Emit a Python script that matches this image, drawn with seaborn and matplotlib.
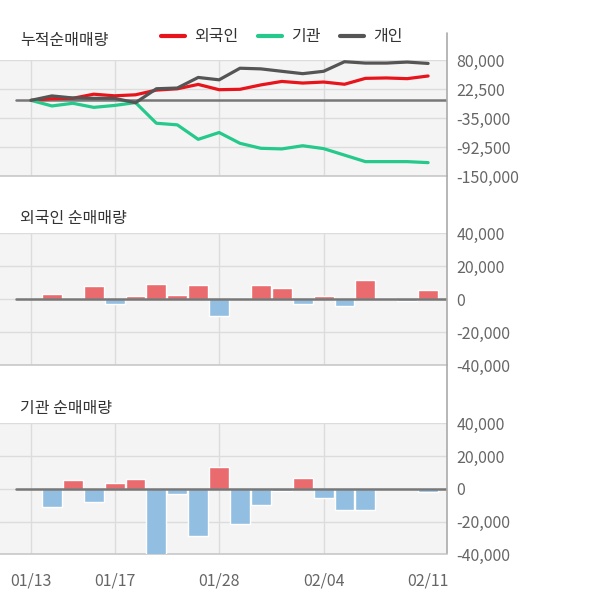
import matplotlib
matplotlib.use("Agg")
import matplotlib.pyplot as plt
from matplotlib.lines import Line2D
import numpy as np
import pandas as pd
import seaborn as sns

# trading days
dates = ['01/13', '01/14', '01/15', '01/16', '01/17', '01/20', '01/21', '01/22',
         '01/23', '01/28', '01/29', '01/30', '01/31', '02/03', '02/04', '02/05',
         '02/06', '02/07', '02/10', '02/11']
tick_labels = ['01/13', '01/17', '01/28', '02/04', '02/11']

# daily net buying
foreign = [0, 3300, 800, 8100, -3200, 2000, 9300, 2600, 8700, -10500,
           800, 8700, 6900, -3200, 2000, -4400, 11700, 800, -1400, 5300]
inst = [0, -11100, 5300, -8100, 3800, 5700, -41000, -3200, -28700, 13500,
        -21400, -9900, -1200, 6300, -5700, -12900, -12900, 0, 0, -2000]
# cumulative individual
indiv_cum = [0, 8800, 4700, 4000, 4000, -4700, 23000, 24400, 45400, 40700,
             63700, 62400, 57600, 52900, 57600, 76600, 73900, 73900, 75900, 73200]

series_names = ['외국인', '기관', '개인']
line_colors = ['#e8141c', '#25c98b', '#555555']
cum_ticks = [-150000, -92500, -35000, 22500, 80000]
bar_ticks = [-40000, -20000, 0, 20000, 40000]

sns.set_style("white")
plt.rcParams['font.family'] = ['Noto Sans CJK KR', 'DejaVu Sans']

idx = np.arange(len(dates))
cum = pd.DataFrame({
    'idx': np.tile(idx, 3),
    'value': np.concatenate([np.cumsum(foreign), np.cumsum(inst), indiv_cum]),
    'series': np.repeat(series_names, len(dates)),
})

W, H = 600, 604
fig = plt.figure(figsize=(W / 100, H / 100), dpi=100)
plot_right = 446.7


def box(top, bottom):
    return [0, (H - bottom) / H, plot_right / W, (bottom - top) / H]


ax1 = fig.add_axes(box(60, 176))
ax2 = fig.add_axes(box(233.3, 365))
ax3 = fig.add_axes(box(423.3, 554.3))

sns.lineplot(data=cum, x='idx', y='value', hue='series', hue_order=series_names,
             palette=line_colors, lw=2.3, legend=False, ax=ax1, zorder=4)
handles = list(ax1.lines[:3])

for ax, vals in [(ax2, foreign), (ax3, inst)]:
    d = pd.DataFrame({'date': dates, 'value': vals,
                      'sign': ['pos' if v >= 0 else 'neg' for v in vals]})
    sns.barplot(data=d, x='date', y='value', hue='sign', dodge=False,
                palette={'pos': '#e96b6e', 'neg': '#92bfe1'}, width=0.95,
                legend=False, ax=ax, zorder=3, saturation=1)

grid_idx = [dates.index(t) for t in tick_labels[:-1]]
for ax, ticks in [(ax1, cum_ticks), (ax2, bar_ticks), (ax3, bar_ticks)]:
    ax.set_facecolor('#f4f4f4')
    ax.set_xlim(-31 / 20.9, (plot_right - 31) / 20.9)
    ax.set_ylim(ticks[0], ticks[-1])
    ax.set_yticks(ticks, [f'{t:,}' for t in ticks])
    ax.yaxis.tick_right()
    ax.tick_params(axis='y', length=0, pad=7, labelsize=11.5, labelcolor='#666666')
    ax.grid(axis='y', color='#dcdcdc', lw=1)
    ax.grid(axis='x', visible=False)
    for gi in grid_idx:
        ax.axvline(gi, color='#dcdcdc', lw=1, zorder=1)
    ax.axhline(0, xmin=15.7 / plot_right, color='#777777', lw=1.8, zorder=3.5)
    for s in ['top', 'left', 'right']:
        ax.spines[s].set_visible(False)
    ax.spines['bottom'].set_color('#c8c8c8')
    ax.spines['bottom'].set_linewidth(1.2)
    ax.set_xlabel('')
    ax.set_ylabel('')
    ax.set_xticks([])

ax3.set_xticks([dates.index(t) for t in tick_labels], tick_labels)
ax3.tick_params(axis='x', length=0, pad=13, labelsize=11.5, labelcolor='#666666')

fig.add_artist(Line2D([plot_right / W] * 2, [(H - 33) / H, (H - 553) / H],
                      color='#aaaaaa', lw=1.2))

title_kw = dict(fontsize=11.5, color='#333333', va='center', ha='left')
fig.text(20 / W, (H - 40) / H, '누적순매매량', **title_kw)
fig.text(20 / W, (H - 218) / H, '외국인 순매매량', **title_kw)
fig.text(20 / W, (H - 408) / H, '기관 순매매량', **title_kw)

leg = fig.legend(handles, series_names, loc='center left',
                 bbox_to_anchor=(161 / W, (H - 37) / H), ncol=3, frameon=False,
                 fontsize=11.5, handlelength=1.5, handletextpad=0.55,
                 columnspacing=1.25, borderpad=0, borderaxespad=0)
for t in leg.get_texts():
    t.set_color('#333333')
for h in leg.legend_handles:
    h.set_linewidth(3)

fig.savefig('out.png', dpi=100)
